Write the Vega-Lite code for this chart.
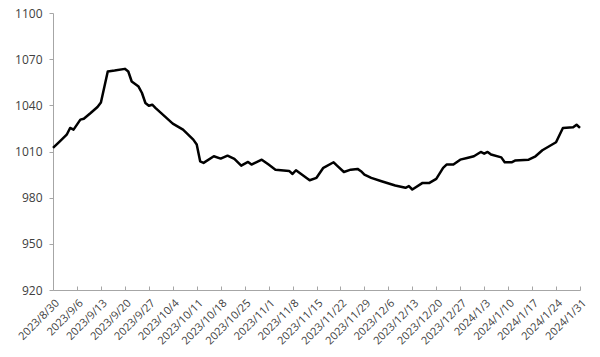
{
  "$schema": "https://vega.github.io/schema/vega-lite/v6.json",
  "width": 527,
  "height": 277,
  "autosize": {"type": "none"},
  "padding": {"left": 53, "top": 13, "right": 20, "bottom": 67},
  "background": "white",
  "config": {"view": {"stroke": null}},
  "data": {"values": [
    {"date": "2023-08-30", "value": 1012.3},
    {"date": "2023-09-01", "value": 1016.6},
    {"date": "2023-09-03", "value": 1020.9},
    {"date": "2023-09-04", "value": 1025.3},
    {"date": "2023-09-05", "value": 1024.2},
    {"date": "2023-09-07", "value": 1030.7},
    {"date": "2023-09-08", "value": 1031.3},
    {"date": "2023-09-10", "value": 1035.0},
    {"date": "2023-09-12", "value": 1038.9},
    {"date": "2023-09-13", "value": 1041.9},
    {"date": "2023-09-15", "value": 1062.0},
    {"date": "2023-09-17", "value": 1062.6},
    {"date": "2023-09-20", "value": 1063.7},
    {"date": "2023-09-21", "value": 1062.0},
    {"date": "2023-09-22", "value": 1055.5},
    {"date": "2023-09-24", "value": 1052.2},
    {"date": "2023-09-25", "value": 1048.0},
    {"date": "2023-09-26", "value": 1041.5},
    {"date": "2023-09-27", "value": 1039.7},
    {"date": "2023-09-28", "value": 1040.4},
    {"date": "2023-09-29", "value": 1038.2},
    {"date": "2023-10-04", "value": 1028.1},
    {"date": "2023-10-07", "value": 1024.2},
    {"date": "2023-10-10", "value": 1017.7},
    {"date": "2023-10-11", "value": 1014.5},
    {"date": "2023-10-12", "value": 1003.6},
    {"date": "2023-10-13", "value": 1002.6},
    {"date": "2023-10-16", "value": 1006.9},
    {"date": "2023-10-18", "value": 1005.4},
    {"date": "2023-10-20", "value": 1007.3},
    {"date": "2023-10-22", "value": 1005.2},
    {"date": "2023-10-24", "value": 1000.8},
    {"date": "2023-10-26", "value": 1003.2},
    {"date": "2023-10-27", "value": 1001.5},
    {"date": "2023-10-30", "value": 1004.7},
    {"date": "2023-11-01", "value": 1001.5},
    {"date": "2023-11-03", "value": 998.2},
    {"date": "2023-11-07", "value": 997.4},
    {"date": "2023-11-08", "value": 995.4},
    {"date": "2023-11-09", "value": 997.8},
    {"date": "2023-11-13", "value": 991.3},
    {"date": "2023-11-15", "value": 992.9},
    {"date": "2023-11-17", "value": 999.4},
    {"date": "2023-11-20", "value": 1003.0},
    {"date": "2023-11-21", "value": 1000.8},
    {"date": "2023-11-23", "value": 996.7},
    {"date": "2023-11-25", "value": 998.2},
    {"date": "2023-11-27", "value": 998.7},
    {"date": "2023-11-28", "value": 997.2},
    {"date": "2023-11-29", "value": 995.0},
    {"date": "2023-12-01", "value": 992.9},
    {"date": "2023-12-04", "value": 990.7},
    {"date": "2023-12-08", "value": 987.9},
    {"date": "2023-12-11", "value": 986.4},
    {"date": "2023-12-12", "value": 987.5},
    {"date": "2023-12-13", "value": 985.3},
    {"date": "2023-12-16", "value": 989.6},
    {"date": "2023-12-18", "value": 989.6},
    {"date": "2023-12-20", "value": 992.2},
    {"date": "2023-12-22", "value": 999.4},
    {"date": "2023-12-23", "value": 1001.5},
    {"date": "2023-12-25", "value": 1001.5},
    {"date": "2023-12-27", "value": 1004.7},
    {"date": "2023-12-29", "value": 1005.8},
    {"date": "2023-12-31", "value": 1006.9},
    {"date": "2024-01-02", "value": 1009.7},
    {"date": "2024-01-03", "value": 1008.6},
    {"date": "2024-01-04", "value": 1009.7},
    {"date": "2024-01-05", "value": 1008.0},
    {"date": "2024-01-08", "value": 1006.2},
    {"date": "2024-01-09", "value": 1003.0},
    {"date": "2024-01-11", "value": 1003.0},
    {"date": "2024-01-12", "value": 1004.1},
    {"date": "2024-01-16", "value": 1004.7},
    {"date": "2024-01-18", "value": 1006.9},
    {"date": "2024-01-20", "value": 1010.8},
    {"date": "2024-01-22", "value": 1013.4},
    {"date": "2024-01-24", "value": 1016.0},
    {"date": "2024-01-26", "value": 1025.3},
    {"date": "2024-01-29", "value": 1025.7},
    {"date": "2024-01-30", "value": 1027.4},
    {"date": "2024-01-31", "value": 1025.3}
  ]},
  "mark": {"type": "line", "color": "#000000", "strokeWidth": 2.5, "strokeJoin": "round"},
  "encoding": {
    "x": {
      "field": "date",
      "type": "temporal",
      "scale": {"type": "utc", "domain": [{"year": 2023, "month": 8, "date": 30, "utc": true}, {"year": 2024, "month": 1, "date": 31, "utc": true}]},
      "axis": {
        "title": null,
        "grid": false,
        "labelExpr": "utcFormat(datum.value, '%Y/%-m/%-d')",
        "values": [
          {"year": 2023, "month": 8, "date": 30, "utc": true},
          {"year": 2023, "month": 9, "date": 6, "utc": true},
          {"year": 2023, "month": 9, "date": 13, "utc": true},
          {"year": 2023, "month": 9, "date": 20, "utc": true},
          {"year": 2023, "month": 9, "date": 27, "utc": true},
          {"year": 2023, "month": 10, "date": 4, "utc": true},
          {"year": 2023, "month": 10, "date": 11, "utc": true},
          {"year": 2023, "month": 10, "date": 18, "utc": true},
          {"year": 2023, "month": 10, "date": 25, "utc": true},
          {"year": 2023, "month": 11, "date": 1, "utc": true},
          {"year": 2023, "month": 11, "date": 8, "utc": true},
          {"year": 2023, "month": 11, "date": 15, "utc": true},
          {"year": 2023, "month": 11, "date": 22, "utc": true},
          {"year": 2023, "month": 11, "date": 29, "utc": true},
          {"year": 2023, "month": 12, "date": 6, "utc": true},
          {"year": 2023, "month": 12, "date": 13, "utc": true},
          {"year": 2023, "month": 12, "date": 20, "utc": true},
          {"year": 2023, "month": 12, "date": 27, "utc": true},
          {"year": 2024, "month": 1, "date": 3, "utc": true},
          {"year": 2024, "month": 1, "date": 10, "utc": true},
          {"year": 2024, "month": 1, "date": 17, "utc": true},
          {"year": 2024, "month": 1, "date": 24, "utc": true},
          {"year": 2024, "month": 1, "date": 31, "utc": true}
        ],
        "labelAngle": -45,
        "labelAlign": "right",
        "labelBaseline": "top",
        "labelFont": "Open Sans",
        "labelFontSize": 11,
        "labelColor": "#404040",
        "labelOverlap": false,
        "labelFlush": false,
        "labelPadding": 11,
        "domainColor": "#a6a6a6",
        "domainWidth": 1,
        "tickColor": "#a6a6a6",
        "tickSize": -4
      }
    },
    "y": {
      "field": "value",
      "type": "quantitative",
      "scale": {"domain": [920, 1100], "nice": false, "zero": false},
      "axis": {
        "title": null,
        "grid": false,
        "format": "d",
        "values": [920, 950, 980, 1010, 1040, 1070, 1100],
        "labelFont": "Open Sans",
        "labelFontSize": 12,
        "labelColor": "#404040",
        "labelPadding": 7,
        "domainColor": "#a6a6a6",
        "domainWidth": 1,
        "tickColor": "#a6a6a6",
        "tickSize": 4
      }
    }
  }
}
